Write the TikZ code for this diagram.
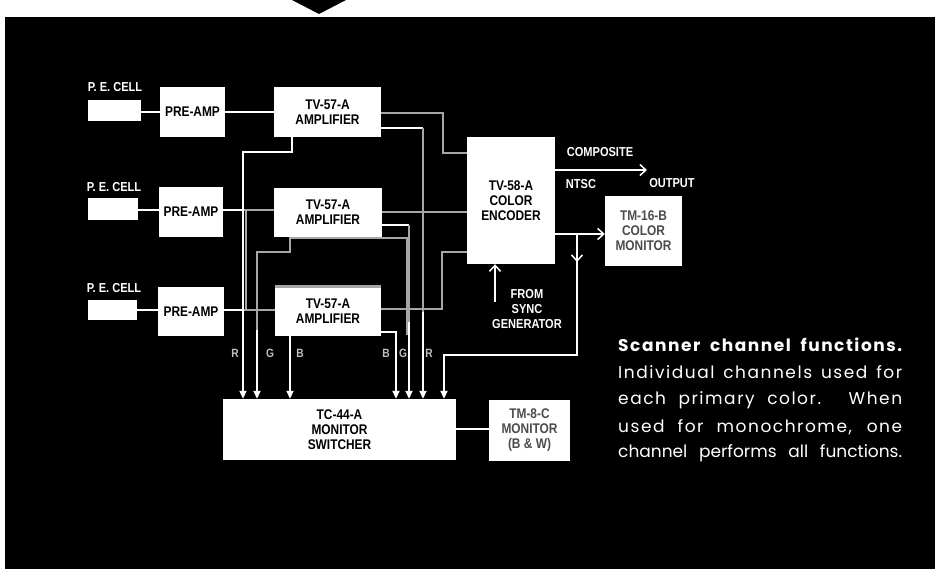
\documentclass[tikz,border=0pt]{standalone}
\usepackage{fontspec}
\usetikzlibrary{arrows.meta}
\newfontfamily\dfont{Liberation Sans}[FakeStretch=0.85]
\newfontfamily\capfont{Poppins}
\newfontfamily\capfontls{Poppins}[LetterSpace=9]
\begin{document}
\begin{tikzpicture}[x=1pt,y=-1pt,
  blk/.style={fill=white, inner sep=0pt, align=center, text=black,
    font=\dfont\bfseries\fontsize{14}{15}\selectfont},
  mon/.style={blk, text=black!70},
  lbl/.style={text=white, inner sep=0pt, font=\dfont\bfseries\fontsize{13}{15}\selectfont, align=center},
  rgb/.style={text=black!25, inner sep=0pt, font=\dfont\bfseries\fontsize{12}{14}\selectfont},
  wire/.style={draw=white, line width=1.8pt},
  hwire/.style={draw=black!35, line width=2.6pt},
  farrow/.style={-{Triangle[length=8pt,width=7pt]}},
  varrow/.style={-{Straight Barb[length=6pt,width=11pt,line width=1.5pt]}},
  capline/.style={text=white, anchor=west, inner sep=0pt, font=\capfontls\fontsize{17}{20}\selectfont}
]
\useasboundingbox (0,0) rectangle (935,569);
\fill[white] (0,0) rectangle (935,569);
\fill[black] (5,17) rectangle (935,569);
\fill[black] (292,0) -- (346,0) -- (319,14) -- cycle;

% P.E. cells
\node[blk, minimum width=53pt, minimum height=21pt] (c1) at (114.5,110.5) {};
\node[blk, minimum width=50pt, minimum height=22pt] (c2) at (113,209) {};
\node[blk, minimum width=49pt, minimum height=20pt] (c3) at (112.5,310) {};
\node[lbl] (l1) at (115,87) {P. E. CELL};
\node[lbl] (l2) at (114,187) {P. E. CELL};
\node[lbl] (l3) at (114,288) {P. E. CELL};

% pre-amps
\node[blk, minimum width=65pt, minimum height=50pt] (p1) at (192.5,112) {PRE-AMP};
\node[blk, minimum width=64pt, minimum height=50pt] (p2) at (191,212) {PRE-AMP};
\node[blk, minimum width=66pt, minimum height=49pt] (p3) at (191,311.5) {PRE-AMP};

% amplifiers
\node[blk, minimum width=107pt, minimum height=50pt] (a1) at (327.5,112) {TV-57-A\\AMPLIFIER};
\node[blk, minimum width=108pt, minimum height=49pt] (a2) at (328,212.5) {TV-57-A\\AMPLIFIER};
\node[blk, minimum width=106pt, minimum height=49pt] (a3) at (328,311.5) {TV-57-A\\AMPLIFIER};

% encoder, monitors, switcher
\node[blk, minimum width=88pt, minimum height=127pt] (enc) at (511,200.5) {TV-58-A\\COLOR\\ENCODER};
\node[mon, minimum width=77pt, minimum height=70pt] (cm) at (643.5,231) {TM-16-B\\COLOR\\MONITOR};
\node[blk, minimum width=233pt, minimum height=61pt] (sw) at (339.5,429.5) {TC-44-A\\MONITOR\\SWITCHER};
\node[mon, minimum width=81pt, minimum height=61pt] (bw) at (529.5,430.5) {TM-8-C\\MONITOR\\(B \& W)};

% cell -> preamp -> amp
\draw[wire] (c1.east |- 0,112) -- (p1.west |- 0,112);
\draw[wire] (c2.east |- 0,210) -- (p2.west |- 0,210);
\draw[wire] (c3.east |- 0,310) -- (p3.west |- 0,310);
\draw[wire] (p1.east |- 0,112) -- (a1.west |- 0,112);
\draw[wire] (p2.east |- 0,210) -- (243,210);
\draw[hwire] (243,210) -- (a2.west |- 0,210);
\draw[wire] (p3.east |- 0,310) -- (243,310);
\draw[hwire] (243,310) -- (a3.west |- 0,310);

% left R G B to switcher
\draw[wire,farrow] (a1.south -| 292,0) -- (292,152) -- (243,152) -- (sw.north -| 243,0);
\draw[hwire] (246,210) -- (246,310);
\draw[hwire] (a2.south -| 290,0) -- (290,252) -- (257,252) -- (257,335);
\draw[wire,farrow] (257,330) -- (sw.north -| 257,0);
\draw[wire,farrow] (a3.south -| 290,0) -- (sw.north -| 290,0);
\draw[hwire] (290,238) -- (407,238) -- (407,335);
\draw[hwire] (a3.north west) -- (a3.north east);

% amplifiers -> encoder
\draw[hwire] (a1.east |- 0,113) -- (443,113) -- (443,153) -- (enc.west |- 0,153);
\draw[hwire] (a2.east |- 0,212) -- (enc.west |- 0,212);
\draw[hwire] (a3.east |- 0,309) -- (442,309) -- (442,252) -- (enc.west |- 0,252);

% right B G R to switcher
\draw[wire] (a1.east |- 0,128) -- (423,128);
\draw[hwire] (423,128) -- (423,320);
\draw[wire,farrow] (423,312) -- (sw.north -| 423,0);
\draw[wire] (a2.east |- 0,225) -- (409,225);
\draw[hwire] (409,225) -- (409,330);
\draw[wire,farrow] (409,322) -- (sw.north -| 409,0);
\draw[wire,farrow] (a3.east |- 0,332) -- (396,332) -- (sw.north -| 396,0);

% encoder outputs
\coordinate (outtip) at (647,170);
\draw[wire,varrow] (enc.east |- 0,170) -- (outtip);
\draw[wire,varrow] (enc.east |- 0,234) -- (cm.west |- 0,234);
\coordinate (br) at (577,234);
\draw[wire,varrow] (br) -- (577,262);
\draw[wire,farrow] (577,256) -- (577,355) -- (444,355) -- (sw.north -| 444,0);
\coordinate (sync) at (495,302);
\draw[wire,varrow] (sync) -- (enc.south -| sync);
\draw[wire] (sw.east |- 0,429) -- (bw.west |- 0,429);

% labels
\node[lbl] (comp) at (600,152) {COMPOSITE};
\node[lbl] (ntsc) at (581,184) {NTSC};
\node[lbl] (outp) at (672,183) {OUTPUT};
\node[lbl] (from) at (527,309) {FROM\\SYNC\\GENERATOR};
\node[rgb] at (235,353) {R};
\node[rgb] at (270,353) {G};
\node[rgb] at (300,353) {B};
\node[rgb] at (386,353) {B};
\node[rgb] at (403,353) {G};
\node[rgb] at (429,353) {R};

% caption
\node[capline] (cap1) at (618,345) {\makebox[284pt][s]{\bfseries Scanner channel functions.}};
\node[capline] (cap2) at (618,372) {\makebox[284pt][s]{Individual channels used for}};
\node[capline] (cap3) at (618,400) {\makebox[284pt][s]{each primary color. When}};
\node[capline] (cap4) at (618,427) {\makebox[284pt][s]{used for monochrome, one}};
\node[capline, font=\capfont\fontsize{17}{20}\selectfont] (cap5) at (618,453) {\makebox[284pt][s]{channel performs all functions.}};
\end{tikzpicture}
\end{document}
